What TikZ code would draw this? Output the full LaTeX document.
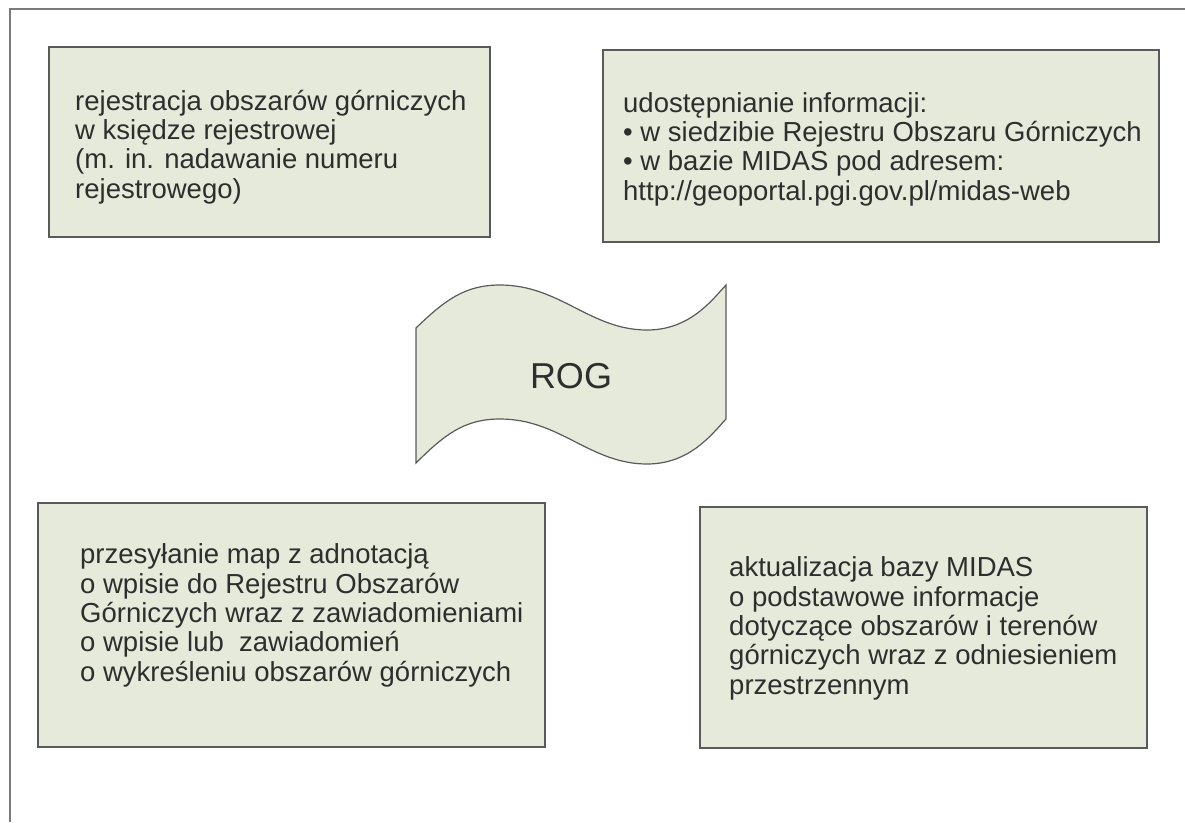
\documentclass[tikz,border=0pt]{standalone}
\usepackage{fontspec}
\setmainfont{Liberation Sans}
\definecolor{boxfill}{HTML}{E6EADA}
\definecolor{boxline}{HTML}{5A5A5A}
\definecolor{txt}{HTML}{2E2E2E}

\begin{document}
\begin{tikzpicture}[x=1pt,y=-1pt,
  box/.style={draw=boxline,line width=1.6pt,fill=boxfill},
  boxtext/.style={anchor=base west,inner sep=0pt,align=left,text=txt,font=\fontsize{27.5}{29.3}\selectfont}]
\useasboundingbox (0,0) rectangle (1185,822);
% frame
\draw[line width=1.5pt,draw=boxline!80] (1185,9) -- (10,9) -- (10,822);
% boxes
\draw[box] (49,47) rectangle (490,237);
\draw[box] (603,50) rectangle (1159,242);
\draw[box] (38,503) rectangle (545,747);
\draw[box] (700,507) rectangle (1147,748);
% texts (anchored at baseline of last line)
\node[boxtext] (rejestracja) at (75,198) {rejestracja obszarów górniczych\\w księdze rejestrowej\\(m. in. nadawanie numeru\\rejestrowego)};
\node[boxtext] (udostepnianie) at (623,200) {udostępnianie informacji:\\• w siedzibie Rejestru Obszaru Górniczych\\• w bazie MIDAS pod adresem:\\http://geoportal.pgi.gov.pl/midas-web};
\node[boxtext] (przesylanie) at (80,681) {przesyłanie map z adnotacją\\o wpisie do Rejestru Obszarów\\Górniczych wraz z zawiadomieniami\\o wpisie lub\ \ zawiadomień\\o wykreśleniu obszarów górniczych};
\node[boxtext] (aktualizacja) at (729,694) {aktualizacja bazy MIDAS\\o podstawowe informacje\\dotyczące obszarów i terenów\\górniczych wraz z odniesieniem\\przestrzennym};
% ROG wave
\draw[box,line width=1.2pt] (416,328) .. controls (445,300) and (465,285) .. (500,285)
  .. controls (560,285) and (590,330) .. (647,330)
  .. controls (690,330) and (712,300) .. (726,285) -- (726,419)
  .. controls (712,434) and (690,464) .. (647,464)
  .. controls (590,464) and (560,419) .. (500,419)
  .. controls (465,419) and (445,434) .. (416,463) -- cycle;
\node[text=txt,font=\fontsize{36}{42}\selectfont] (rog) at (571,376) {ROG};
\end{tikzpicture}
\end{document}
